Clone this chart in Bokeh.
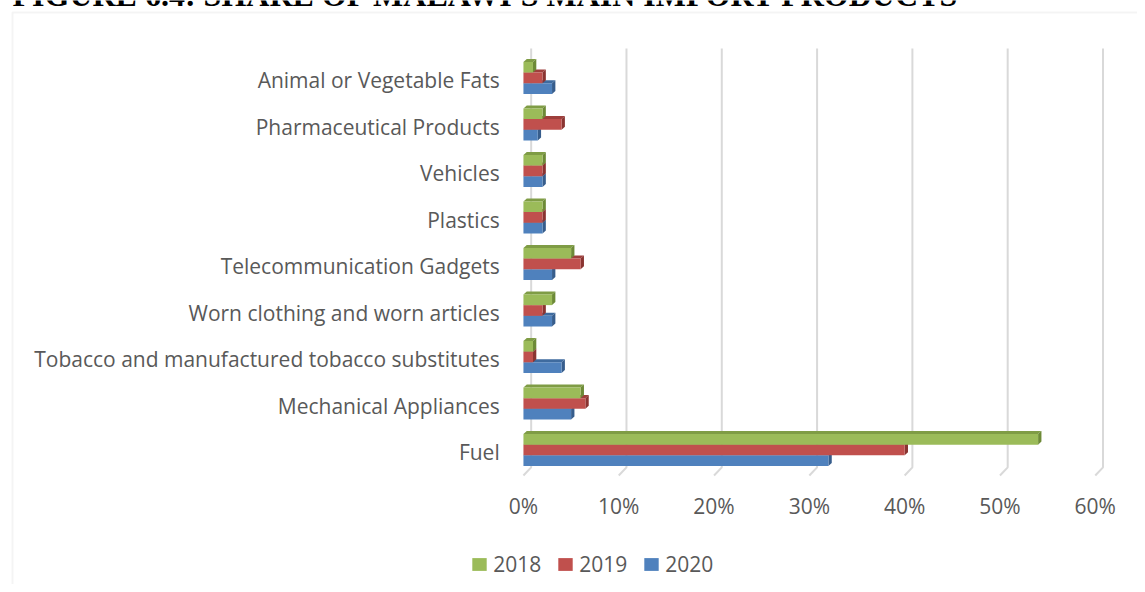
from bokeh.plotting import figure
from bokeh.models import (Range1d, LinearAxis, FixedTicker, PrintfTickFormatter,
                          Legend, LegendItem, BoxAnnotation, Label)
from bokeh.embed import file_html
from bokeh.resources import INLINE

# ---------------- data ----------------
TITLE = "FIGURE 6.4: SHARE OF MALAWI'S MAIN IMPORT PRODUCTS"
CATEGORIES = [
    "Animal or Vegetable Fats",
    "Pharmaceutical Products",
    "Vehicles",
    "Plastics",
    "Telecommunication Gadgets",
    "Worn clothing and worn articles",
    "Tobacco and manufactured tobacco substitutes",
    "Mechanical Appliances",
    "Fuel",
]
YEARS = ["2018", "2019", "2020"]
S2018 = [1, 2, 2, 2, 5, 3, 1, 6, 54]
S2019 = [2, 4, 2, 2, 6, 2, 1, 6.5, 40]
S2020 = [3, 1.5, 2, 2, 3, 3, 4, 5, 32]
X_TICKS = [0, 10, 20, 30, 40, 50, 60]

# ---------------- styles ----------------
FRONT = {"2018": "#9bbb59", "2019": "#c0504d", "2020": "#4f81bd"}
TOP = {"2018": "#7f9c45", "2019": "#9e3f3c", "2020": "#3f6b9f"}
SIDE = {"2018": "#6d8a37", "2019": "#8a3431", "2020": "#375d8c"}
TEXT_COLOR = "#595959"
GRID_COLOR = "#d9d9d9"
FONT = "Open Sans"
FS = "21px"

W, H = 1137, 584
BAR_H = 0.23
BAR_SHIFT = 0.054
DX = 0.35      # 3D depth (x, in % units)
DY = 0.065     # 3D depth (y, in category units)
GX = 0.81      # back-wall offset for gridlines
n = len(CATEGORIES)
GRID_TOP = n - 1 + 0.69
FLOOR_BACK = -0.32
FLOOR_FRONT = -0.495

p = figure(width=W, height=H, output_backend="svg", toolbar_location=None,
           x_range=Range1d(-54.87, 64.43), y_range=Range1d(-2.839, 9.720),
           x_axis_location=None, y_axis_location=None)
p.min_border_left = 0
p.min_border_right = 0
p.min_border_top = 0
p.min_border_bottom = 0
p.outline_line_color = None
p.grid.visible = False
p.background_fill_color = "white"
p.border_fill_color = "white"

# outer chart border
p.add_layout(BoxAnnotation(left=12, right=W + 50, top=H - 12, bottom=-50,
                           left_units="screen", right_units="screen",
                           top_units="screen", bottom_units="screen",
                           fill_alpha=0, line_color=GRID_COLOR, line_width=2,
                           level="underlay"))

# title (cut off at the top as in the reference)
p.add_layout(Label(x=12, y=H + 6, x_units="screen", y_units="screen", text=TITLE,
                   text_font="Liberation Serif", text_font_style="bold",
                   text_font_size="32px", text_color="black",
                   text_baseline="alphabetic", text_align="left"))

# gridlines on back wall with 3D floor foot
gxs, gys = [], []
for t in X_TICKS:
    gxs.append([t + GX, t + GX, t])
    gys.append([GRID_TOP, FLOOR_BACK, FLOOR_FRONT])
p.multi_line(xs=gxs, ys=gys, line_color=GRID_COLOR, line_width=2)

# bars
series = {"2018": S2018, "2019": S2019, "2020": S2020}
ypos = [n - 1 - j for j in range(n)]
front_renderers = {}
for k, yr in reversed(list(enumerate(YEARS))):
    vals = series[yr]
    yc = [y + BAR_SHIFT + (1 - k) * BAR_H for y in ypos]
    txs, tys, sxs, sys_ = [], [], [], []
    for v, c in zip(vals, yc):
        yt, yb = c + BAR_H / 2, c - BAR_H / 2
        txs.append([0, v, v + DX, DX])
        tys.append([yt, yt, yt + DY, yt + DY])
        sxs.append([v, v, v + DX, v + DX])
        sys_.append([yb, yt, yt + DY, yb + DY])
    p.patches(xs=txs, ys=tys, fill_color=TOP[yr], line_color=None)
    p.patches(xs=sxs, ys=sys_, fill_color=SIDE[yr], line_color=None)
    front_renderers[yr] = p.hbar(y=yc, left=0, right=vals, height=BAR_H,
                                 fill_color=FRONT[yr], line_color=None)

# axes
xaxis = LinearAxis(fixed_location=-0.86, ticker=FixedTicker(ticks=X_TICKS),
                   formatter=PrintfTickFormatter(format="%d%%"))
yaxis = LinearAxis(fixed_location=-2.49, ticker=FixedTicker(ticks=ypos),
                   major_label_overrides={y: c for y, c in zip(ypos, CATEGORIES)})
for ax in (xaxis, yaxis):
    ax.axis_line_color = None
    ax.major_tick_line_color = None
    ax.minor_tick_line_color = None
    ax.major_tick_in = 0
    ax.major_tick_out = 0
    ax.major_label_standoff = 0
    ax.major_label_text_font = FONT
    ax.major_label_text_font_size = FS
    ax.major_label_text_color = TEXT_COLOR
p.add_layout(xaxis, "below")
p.add_layout(yaxis, "left")

# legend
legend = Legend(items=[LegendItem(label=yr, renderers=[front_renderers[yr]]) for yr in YEARS],
                orientation="horizontal", location=(470.2, 6.0),
                glyph_width=18, glyph_height=16, label_standoff=5, spacing=15,
                padding=0, margin=0, border_line_color=None, background_fill_alpha=0,
                label_text_font=FONT, label_text_font_size=FS, label_text_color=TEXT_COLOR)
p.add_layout(legend, "center")

open("out.html", "w").write(file_html(p, INLINE))
